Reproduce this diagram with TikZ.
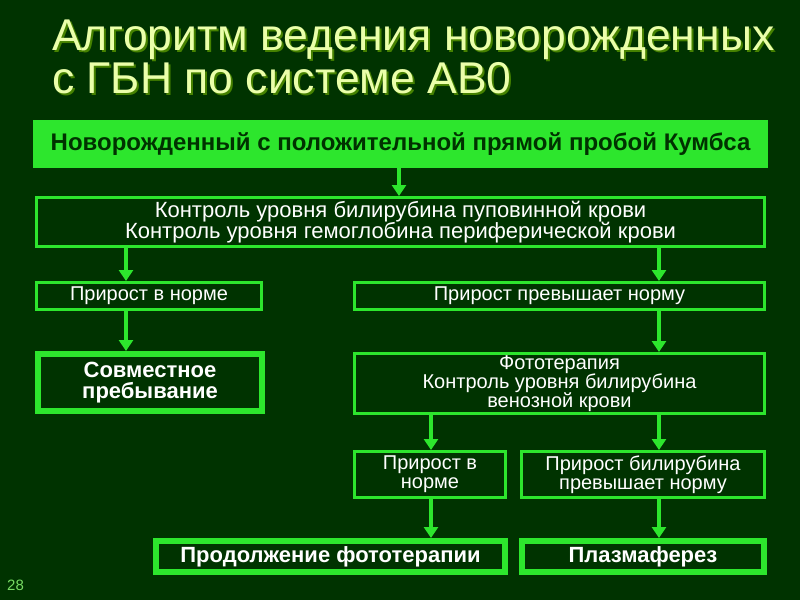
\documentclass[tikz,border=0pt]{standalone}
\usepackage{fontspec}
\setmainfont{Liberation Sans}
\usetikzlibrary{arrows.meta}
\definecolor{bg}{RGB}{0,51,0}
\definecolor{lg}{RGB}{45,230,45}
\definecolor{ttl}{RGB}{235,255,170}
\definecolor{tsh}{RGB}{70,130,0}
\definecolor{dk}{RGB}{0,50,0}
\definecolor{pg}{RGB}{120,220,100}
\tikzset{
  x=1pt,y=-1pt,
  box/.style={draw=lg,line width=3pt,fill=bg,text=white,inner sep=0pt,align=center,
    font=\fontsize{20}{19}\selectfont},
  thickbox/.style={box,line width=6pt,font=\bfseries\fontsize{22}{21}\selectfont},
  arr/.style={draw=lg,line width=4pt,-{Triangle[width=14pt,length=11pt]}},
  ttltext/.style={anchor=base west,inner sep=0pt,font=\fontsize{44.5}{43}\selectfont},
}
\begin{document}
\begin{tikzpicture}
\fill[bg] (0,0) rectangle (800,600);
\useasboundingbox (0,0) rectangle (800,600);
% title
\node[ttltext,text=tsh] (t1s) at (54,52) {Алгоритм ведения новорожденных};
\node[ttltext,text=ttl] (t1) at (52,50) {Алгоритм ведения новорожденных};
\node[ttltext,text=tsh] (t2s) at (54,95) {с ГБН по системе АВ0};
\node[ttltext,text=ttl] (t2) at (52,93) {с ГБН по системе АВ0};
% boxes
\node[fill=lg,inner sep=0pt,minimum width=735pt,minimum height=48pt,
  font=\bfseries\fontsize{24}{21}\selectfont,text=dk] (b1) at (400.5,144) {Новорожденный с положительной прямой пробой Кумбса};
\node[box,minimum width=728pt,minimum height=49pt,font=\fontsize{22}{21}\selectfont] (b2) at (400.5,222) {Контроль уровня билирубина пуповинной крови\\Контроль уровня гемоглобина периферической крови};
\node[box,minimum width=225pt,minimum height=27pt] (b3) at (149,296) {Прирост в норме};
\node[box,minimum width=410pt,minimum height=27pt] (b4) at (559.5,296) {Прирост превышает норму};
\node[thickbox,minimum width=224pt,minimum height=57pt] (b5) at (150,382.5) {Совместное\\пребывание};
\node[box,minimum width=410pt,minimum height=60pt] (b6) at (559.5,383.5) {Фототерапия\\Контроль уровня билирубина\\венозной крови};
\node[box,minimum width=151pt,minimum height=46pt] (b7) at (430,474.5) {Прирост в\\норме};
\node[box,minimum width=243pt,minimum height=46pt] (b8) at (643,474.5) {Прирост билирубина\\превышает норму};
\node[thickbox,minimum width=349pt,minimum height=31pt] (b9) at (330.5,556.5) {Продолжение фототерапии};
\node[thickbox,minimum width=242pt,minimum height=31pt] (b10) at (643,556.5) {Плазмаферез};
\node[anchor=base west,inner sep=0pt,text=pg,font=\fontsize{15}{15}\selectfont] (pn) at (7,590) {28};
% connector columns
\coordinate (cA) at (399,0);
\coordinate (cL) at (126,0);
\coordinate (cR) at (659,0);
\coordinate (cM) at (431,0);
\draw[arr] (b1.south -| cA) -- (b2.north -| cA);
\draw[arr] (b2.south -| cL) -- (b3.north -| cL);
\draw[arr] (b2.south -| cR) -- (b4.north -| cR);
\draw[arr] (b3.south -| cL) -- (b5.north -| cL);
\draw[arr] (b4.south -| cR) -- (b6.north -| cR);
\draw[arr] (b6.south -| cM) -- (b7.north -| cM);
\draw[arr] (b6.south -| cR) -- (b8.north -| cR);
\draw[arr] (b7.south -| cM) -- (b9.north -| cM);
\draw[arr] (b8.south -| cR) -- (b10.north -| cR);
\end{tikzpicture}
\end{document}
